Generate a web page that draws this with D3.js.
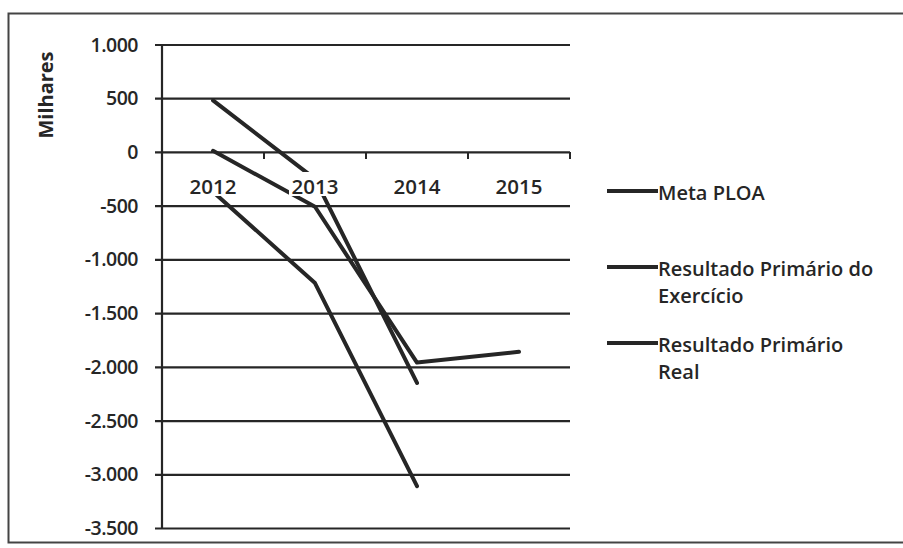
<!DOCTYPE html>
<html>
<head>
<meta charset="utf-8">
<script src="https://cdn.jsdelivr.net/npm/d3@7"></script>
<style>
  body { margin: 0; background: #fff; }
  text { font-family: "Open Sans", sans-serif; fill: #262626; font-weight: 600; }
</style>
</head>
<body>
<div class="container"></div>
<script>
// data (values in thousands)
const years = ['2012', '2013', '2014', '2015'];
const metaPloa = [10, -510, -1960, -1860];
const resultadoExercicio = [480, -250, -2150, null];
const resultadoReal = [-370, -1220, -3110, null];
const yTicks = [1000, 500, 0, -500, -1000, -1500, -2000, -2500, -3000, -3500];
const seriesNames = ['Meta PLOA', 'Resultado Primário do Exercício', 'Resultado Primário Real'];
const legendLines = [['Meta PLOA'], ['Resultado Primário do', 'Exercício'], ['Resultado Primário', 'Real']];

(function(){
  const config = {w: 903, h: 548, left: 162, right: 570, top: 44.5, bottom: 528};
  const ink = '#262626';

  const svg = d3.select('.container').append('svg')
    .attr('width', config.w)
    .attr('height', config.h);

  const pt = d3.formatLocale({decimal: ',', thousands: '.', grouping: [3], currency: ['R$', ''], minus: '-'});
  const fmt = pt.format(',d');

  const x = d3.scaleBand()
    .domain(years)
    .range([config.left, config.right]);

  const y = d3.scaleLinear()
    .domain([-3500, 1000])
    .range([config.bottom, config.top]);

  // outer frame (right side runs off the scan)
  svg.append('rect')
    .attr('x', 8.5).attr('y', 13.5)
    .attr('width', 1000).attr('height', 529)
    .attr('fill', 'none')
    .attr('stroke', '#444')
    .attr('stroke-width', 2);

  // gridlines + y axis
  svg.append('g')
    .attr('transform', `translate(${config.left},0)`)
    .call(d3.axisLeft(y)
      .tickValues(yTicks)
      .tickSize(-(config.right - config.left))
      .tickFormat(''))
    .call(g => g.select('.domain').remove())
    .selectAll('line')
      .attr('x1', -7)
      .attr('stroke', ink)
      .attr('stroke-width', 2.2);

  svg.append('line')
    .attr('x1', config.left).attr('x2', config.left)
    .attr('y1', config.top).attr('y2', config.bottom)
    .attr('stroke', ink).attr('stroke-width', 2.2);

  // x axis at zero with tick marks at category boundaries
  const xAxis = svg.append('g').attr('transform', `translate(0,${y(0)})`);
  xAxis.selectAll('line.tick')
    .data(years)
    .enter().append('line')
      .attr('x1', d => x(d) + x.bandwidth())
      .attr('x2', d => x(d) + x.bandwidth())
      .attr('y1', 0).attr('y2', 7)
      .attr('stroke', ink).attr('stroke-width', 2);

  svg.append('g')
    .selectAll('text')
    .data(yTicks)
    .enter().append('text')
      .attr('x', 138)
      .attr('y', d => y(d))
      .attr('dy', '0.36em')
      .attr('text-anchor', 'end')
      .attr('font-size', 19.5)
      .attr('letter-spacing', -0.5)
      .text(d => fmt(d));

  svg.append('text')
    .attr('transform', 'translate(53,95) rotate(-90)')
    .attr('text-anchor', 'middle')
    .attr('font-size', 20)
    .style('font-weight', 'bold')
    .text('Milhares');

  // series lines
  const line = d3.line()
    .defined(d => d.v != null)
    .x(d => x(d.year) + x.bandwidth() / 2)
    .y(d => y(d.v));

  const series = [metaPloa, resultadoExercicio, resultadoReal].map((vals, i) => ({
    name: seriesNames[i],
    values: years.map((yr, j) => ({year: yr, v: vals[j]}))
  }));

  svg.append('g')
    .selectAll('path')
    .data(series)
    .enter().append('path')
      .attr('d', d => line(d.values))
      .attr('fill', 'none')
      .attr('stroke', ink)
      .attr('stroke-width', 4)
      .attr('stroke-linejoin', 'round')
      .attr('stroke-linecap', 'round');

  // category labels sit on white boxes that hide the lines beneath
  const labels = svg.append('g')
    .selectAll('g')
    .data(years)
    .enter().append('g')
      .attr('transform', d => `translate(${x(d) + x.bandwidth() / 2},194)`);

  labels.append('rect')
    .attr('x', -26).attr('y', -22)
    .attr('width', 52).attr('height', 24)
    .attr('fill', '#fff');

  labels.append('text')
    .attr('text-anchor', 'middle')
    .attr('font-size', 20.5)
    .text(d => d);

  // legend
  const legendY = [200, 276, 352];
  const legend = svg.append('g')
    .selectAll('g')
    .data(legendLines)
    .enter().append('g')
      .attr('transform', (d, i) => `translate(607,${legendY[i]})`);

  legend.append('line')
    .attr('x1', 0).attr('x2', 51)
    .attr('y1', -9).attr('y2', -9)
    .attr('stroke', ink)
    .attr('stroke-width', 4);

  legend.append('text')
    .attr('x', 51)
    .attr('font-size', 20)
    .selectAll('tspan')
    .data(d => d)
    .enter().append('tspan')
      .attr('x', 51)
      .attr('dy', (d, i) => i ? 27 : 0)
      .text(d => d);
})();
</script>
</body>
</html>
